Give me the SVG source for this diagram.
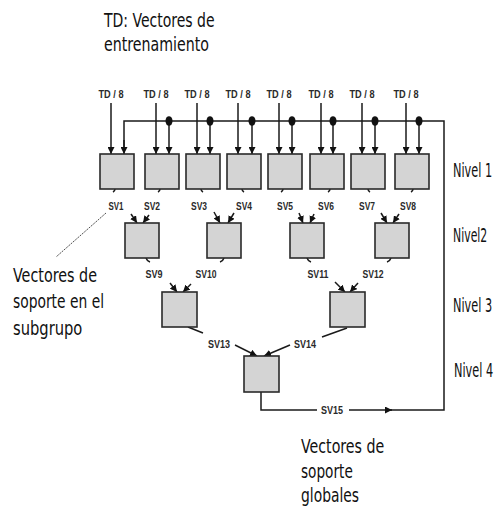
<svg xmlns="http://www.w3.org/2000/svg" width="502" height="507" viewBox="0 0 502 507">
<style>
.box{fill:#d4d4d4;stroke:#2a2a2a;stroke-width:1.6}
.ln{fill:none;stroke:#1a1a1a;stroke-width:1.5}
.ar{fill:none;stroke:#1a1a1a;stroke-width:1.5;marker-end:url(#ah)}
.sm{font-family:"Liberation Sans Narrow","Liberation Sans",Arial,sans-serif;font-weight:bold;font-size:10.5px;fill:#2a2a2a;text-anchor:middle}
.big{font-family:"DejaVu Sans Condensed","DejaVu Sans",sans-serif;font-stretch:condensed;font-size:19px;fill:#111}
.dot{fill:#111}
</style>
<defs>
<marker id="ah" markerUnits="userSpaceOnUse" markerWidth="8" markerHeight="7" refX="7" refY="3.5" orient="auto">
<path d="M0,0 L7,3.5 L0,7 z" fill="#111"/>
</marker>
</defs>
<rect width="502" height="507" fill="#fff"/>

<g id="connectors">
<line class="ar" x1="111" y1="103" x2="111" y2="154"/>
<line class="ar" x1="156" y1="103" x2="156" y2="154"/>
<line class="ar" x1="197" y1="103" x2="197" y2="154"/>
<line class="ar" x1="238" y1="103" x2="238" y2="154"/>
<line class="ar" x1="279" y1="103" x2="279" y2="154"/>
<line class="ar" x1="321" y1="103" x2="321" y2="154"/>
<line class="ar" x1="362" y1="103" x2="362" y2="154"/>
<line class="ar" x1="406" y1="103" x2="406" y2="154"/>
<path class="ln" d="M261,392 V410 H317"/>
<path class="ar" d="M349,410 H392"/>
<path class="ln" d="M390,410 H444 V121 H124 V150"/>
<line class="ar" x1="124" y1="140" x2="124" y2="154"/>
<line class="ar" x1="169" y1="121" x2="169" y2="154"/>
<line class="ar" x1="210" y1="121" x2="210" y2="154"/>
<line class="ar" x1="252" y1="121" x2="252" y2="154"/>
<line class="ar" x1="292" y1="121" x2="292" y2="154"/>
<line class="ar" x1="333" y1="121" x2="333" y2="154"/>
<line class="ar" x1="375" y1="121" x2="375" y2="154"/>
<line class="ar" x1="419" y1="121" x2="419" y2="154"/>
<ellipse class="dot" cx="169" cy="121" rx="3.5" ry="4.8"/>
<ellipse class="dot" cx="210" cy="121" rx="3.5" ry="4.8"/>
<ellipse class="dot" cx="252" cy="121" rx="3.5" ry="4.8"/>
<ellipse class="dot" cx="292" cy="121" rx="3.5" ry="4.8"/>
<ellipse class="dot" cx="333" cy="121" rx="3.5" ry="4.8"/>
<ellipse class="dot" cx="375" cy="121" rx="3.5" ry="4.8"/>
<ellipse class="dot" cx="419" cy="121" rx="3.5" ry="4.8"/>
<path class="ln" d="M115,189 q0,2 -2,3"/>
<path class="ln" d="M160,189 q0,2 -2,3"/>
<path class="ln" d="M201,189 q0,2 2,3"/>
<path class="ln" d="M242,189 q0,2 2,3"/>
<path class="ln" d="M283,189 q0,2 -2,3"/>
<path class="ln" d="M330,189 q0,2 -2,3"/>
<path class="ln" d="M368,189 q0,2 2,3"/>
<path class="ln" d="M413,189 q0,2 -2,3"/>
<line class="ar" x1="131" y1="214" x2="137" y2="223"/>
<line class="ar" x1="149" y1="215" x2="143" y2="223"/>
<line class="ar" x1="214" y1="212" x2="220" y2="223"/>
<line class="ar" x1="234" y1="213" x2="228" y2="223"/>
<line class="ar" x1="299" y1="213" x2="303" y2="223"/>
<line class="ar" x1="314" y1="214" x2="310" y2="223"/>
<line class="ar" x1="381" y1="213" x2="387" y2="223"/>
<line class="ar" x1="399" y1="214" x2="393" y2="223"/>
<path class="ln" d="M146,258 q1,3 4,4"/>
<path class="ln" d="M224,258 q-1,3 -4,4"/>
<path class="ln" d="M307,258 q1,3 4,4"/>
<path class="ln" d="M391,258 q-1,3 -4,4"/>
<line class="ar" x1="170" y1="283" x2="177" y2="292"/>
<line class="ar" x1="191" y1="284" x2="183" y2="292"/>
<line class="ar" x1="335" y1="282" x2="345" y2="292"/>
<line class="ar" x1="358" y1="283" x2="350" y2="292"/>
<line class="ln" x1="188" y1="327" x2="203" y2="333"/>
<line class="ln" x1="347" y1="328" x2="322" y2="337"/>
<line class="ar" x1="235" y1="345" x2="257" y2="356"/>
<line class="ar" x1="290" y1="345" x2="264" y2="356"/>
<line x1="106" y1="213" x2="56" y2="257" stroke="#222" stroke-width="0.8" stroke-dasharray="2,1"/>
</g>

<g id="level1">
<rect id="n1" class="box" x="100" y="154" width="34" height="35"/>
<rect id="n2" class="box" x="145" y="154" width="34" height="35"/>
<rect id="n3" class="box" x="186" y="154" width="34" height="35"/>
<rect id="n4" class="box" x="227" y="154" width="34" height="35"/>
<rect id="n5" class="box" x="268" y="154" width="34" height="35"/>
<rect id="n6" class="box" x="310" y="154" width="34" height="35"/>
<rect id="n7" class="box" x="351" y="154" width="34" height="35"/>
<rect id="n8" class="box" x="395" y="154" width="34" height="35"/>
</g>
<g id="level2">
<rect id="n9" class="box" x="125" y="223" width="34" height="35"/>
<rect id="n10" class="box" x="207" y="223" width="34" height="35"/>
<rect id="n11" class="box" x="290" y="223" width="34" height="35"/>
<rect id="n12" class="box" x="375" y="223" width="34" height="35"/>
</g>
<g id="level3">
<rect id="n13" class="box" x="162" y="292" width="35" height="35"/>
<rect id="n14" class="box" x="330" y="292" width="35" height="35"/>
</g>
<g id="level4">
<rect id="n15" class="box" x="244" y="356" width="35" height="36"/>
</g>

<g id="small-labels">
<text class="sm" x="111" y="98" textLength="25" lengthAdjust="spacingAndGlyphs">TD / 8</text>
<text class="sm" x="156" y="98" textLength="25" lengthAdjust="spacingAndGlyphs">TD / 8</text>
<text class="sm" x="197" y="98" textLength="25" lengthAdjust="spacingAndGlyphs">TD / 8</text>
<text class="sm" x="238" y="98" textLength="25" lengthAdjust="spacingAndGlyphs">TD / 8</text>
<text class="sm" x="279" y="98" textLength="25" lengthAdjust="spacingAndGlyphs">TD / 8</text>
<text class="sm" x="321" y="98" textLength="25" lengthAdjust="spacingAndGlyphs">TD / 8</text>
<text class="sm" x="362" y="98" textLength="25" lengthAdjust="spacingAndGlyphs">TD / 8</text>
<text class="sm" x="406" y="98" textLength="25" lengthAdjust="spacingAndGlyphs">TD / 8</text>
<text class="sm" x="116" y="210" textLength="15" lengthAdjust="spacingAndGlyphs">SV1</text>
<text class="sm" x="152" y="210" textLength="16" lengthAdjust="spacingAndGlyphs">SV2</text>
<text class="sm" x="199" y="210" textLength="16" lengthAdjust="spacingAndGlyphs">SV3</text>
<text class="sm" x="244" y="210" textLength="16" lengthAdjust="spacingAndGlyphs">SV4</text>
<text class="sm" x="285" y="210" textLength="16" lengthAdjust="spacingAndGlyphs">SV5</text>
<text class="sm" x="326" y="210" textLength="16" lengthAdjust="spacingAndGlyphs">SV6</text>
<text class="sm" x="367" y="210" textLength="16" lengthAdjust="spacingAndGlyphs">SV7</text>
<text class="sm" x="408" y="210" textLength="16" lengthAdjust="spacingAndGlyphs">SV8</text>
<text class="sm" x="154" y="278" textLength="17" lengthAdjust="spacingAndGlyphs">SV9</text>
<text class="sm" x="206" y="278" textLength="21" lengthAdjust="spacingAndGlyphs">SV10</text>
<text class="sm" x="318" y="278" textLength="21" lengthAdjust="spacingAndGlyphs">SV11</text>
<text class="sm" x="373" y="278" textLength="21" lengthAdjust="spacingAndGlyphs">SV12</text>
<text class="sm" x="219" y="348" textLength="22" lengthAdjust="spacingAndGlyphs">SV13</text>
<text class="sm" x="305" y="348" textLength="22" lengthAdjust="spacingAndGlyphs">SV14</text>
<text class="sm" x="332" y="414" textLength="22" lengthAdjust="spacingAndGlyphs">SV15</text>
</g>

<g id="titles">
<text class="big" transform="translate(104 27) scale(0.7 1)" textLength="158" lengthAdjust="spacingAndGlyphs">TD: Vectores de</text>
<text class="big" transform="translate(104 51) scale(0.7 1)" textLength="150" lengthAdjust="spacingAndGlyphs">entrenamiento</text>
<text class="big" transform="translate(453 177) scale(0.7 1)" textLength="56" lengthAdjust="spacingAndGlyphs">Nivel 1</text>
<text class="big" transform="translate(453 242) scale(0.7 1)" textLength="49" lengthAdjust="spacingAndGlyphs">Nivel2</text>
<text class="big" transform="translate(453 312) scale(0.7 1)" textLength="56" lengthAdjust="spacingAndGlyphs">Nivel 3</text>
<text class="big" transform="translate(454 377) scale(0.7 1)" textLength="56" lengthAdjust="spacingAndGlyphs">Nivel 4</text>
<text class="big" transform="translate(13 282) scale(0.7 1)" textLength="120" lengthAdjust="spacingAndGlyphs">Vectores de</text>
<text class="big" transform="translate(13 308) scale(0.7 1)" textLength="130" lengthAdjust="spacingAndGlyphs">soporte en el</text>
<text class="big" transform="translate(13 335) scale(0.7 1)" textLength="99" lengthAdjust="spacingAndGlyphs">subgrupo</text>
<text class="big" transform="translate(301 453) scale(0.7 1)" textLength="119" lengthAdjust="spacingAndGlyphs">Vectores de</text>
<text class="big" transform="translate(301 478) scale(0.7 1)" textLength="74" lengthAdjust="spacingAndGlyphs">soporte</text>
<text class="big" transform="translate(301 502) scale(0.7 1)" textLength="83" lengthAdjust="spacingAndGlyphs">globales</text>
</g>
</svg>
